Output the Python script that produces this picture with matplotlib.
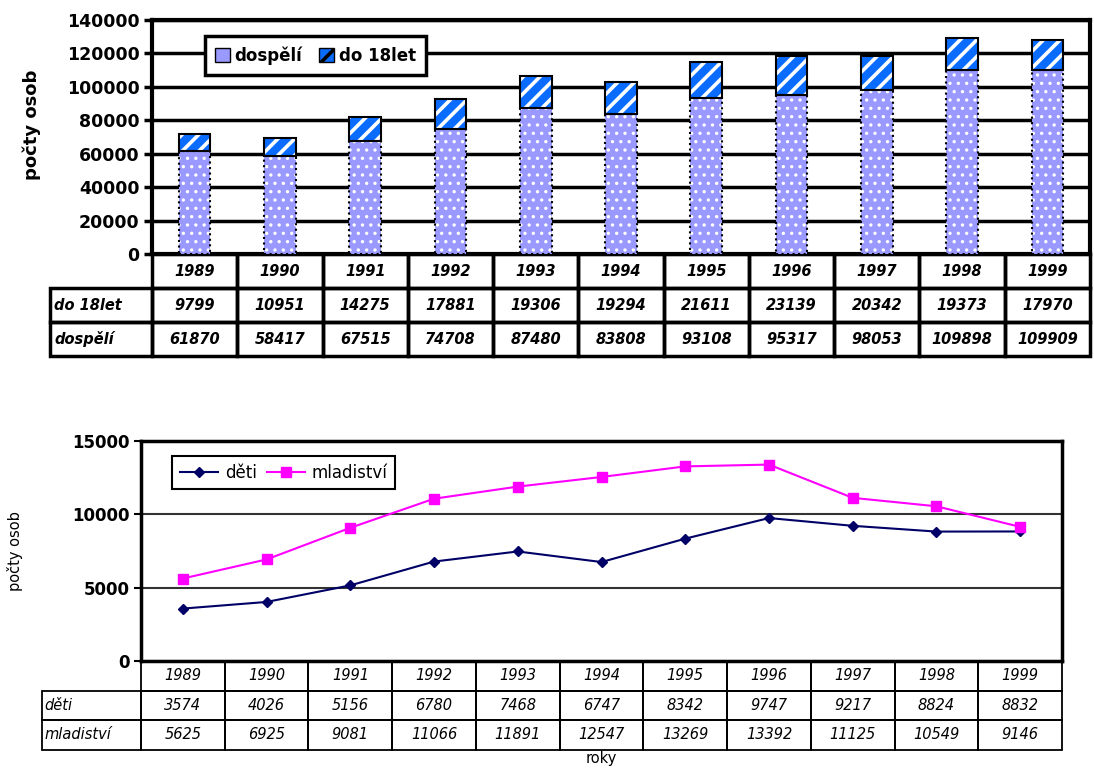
import matplotlib
matplotlib.use('Agg')
import matplotlib.pyplot as plt
from matplotlib.patches import Rectangle

# data
roky = ['1989', '1990', '1991', '1992', '1993', '1994', '1995', '1996', '1997', '1998', '1999']
do18 = [9799, 10951, 14275, 17881, 19306, 19294, 21611, 23139, 20342, 19373, 17970]
dospeli = [61870, 58417, 67515, 74708, 87480, 83808, 93108, 95317, 98053, 109898, 109909]
deti = [3574, 4026, 5156, 6780, 7468, 6747, 8342, 9747, 9217, 8824, 8832]
mladistvi = [5625, 6925, 9081, 11066, 11891, 12547, 13269, 13392, 11125, 10549, 9146]

plt.rcParams['hatch.linewidth'] = 2.6
W, H = 1094, 771
fig = plt.figure(figsize=(W/100, H/100), dpi=100)


def rect(l, t, r, b):
    return [l/W, 1-b/H, (r-l)/W, (b-t)/H]


def draw_table(ax, cols, labels, rows, label_left, row_h, lw, font, lab_pad):
    tr = ax.get_xaxis_transform()
    for i, c in enumerate(cols):
        ax.add_patch(Rectangle((i-0.5, -row_h), 1, row_h, transform=tr, fill=False,
                               lw=lw, ec='black', clip_on=False))
        ax.text(i, -row_h/2, c, transform=tr, ha='center', va='center', **font)
    for r, (name, vals) in enumerate(zip(labels, rows)):
        y0 = -row_h*(r+2)
        ax.add_patch(Rectangle((label_left, y0), -0.5-label_left, row_h, transform=tr,
                               fill=False, lw=lw, ec='black', clip_on=False))
        ax.text(label_left+lab_pad, y0+row_h/2, name, transform=tr, ha='left', va='center', **font)
        for i, v in enumerate(vals):
            ax.add_patch(Rectangle((i-0.5, y0), 1, row_h, transform=tr, fill=False,
                                   lw=lw, ec='black', clip_on=False))
            ax.text(i, y0+row_h/2, str(v), transform=tr, ha='center', va='center', **font)


# ---- horni graf (sloupce) ----
ax1 = fig.add_axes(rect(152, 20, 1090, 254))
x = list(range(len(roky)))
bw = 0.37
dots = ax1.bar(x, dospeli, width=bw, color='#9999ff', edgecolor='white', hatch='..', lw=0, zorder=3)
for p in dots:
    if hasattr(p, 'set_hatch_linewidth'):
        p.set_hatch_linewidth(1.2)
ax1.bar(x, dospeli, width=bw, fill=False, edgecolor='black', ls=':', lw=1.5, zorder=4)
ax1.bar(x, do18, bottom=dospeli, width=bw, color='#0a6cff', edgecolor='white', hatch='//', lw=0, zorder=3)
ax1.bar(x, do18, bottom=dospeli, width=bw, fill=False, edgecolor='black', lw=1.5, zorder=4)
ax1.set_xlim(-0.5, 10.5)
ax1.set_ylim(0, 140000)
ax1.set_yticks(range(0, 140001, 20000))
ax1.set_xticks([])
ax1.yaxis.grid(True, color='black', lw=2.5, zorder=0)
for s in ax1.spines.values():
    s.set_linewidth(3)
ax1.tick_params(axis='y', direction='out', length=6, width=2.5, labelsize=12.5, pad=3)
for t in ax1.get_yticklabels():
    t.set_fontweight('bold')
ax1.set_ylabel('počty osob', fontsize=13, fontweight='bold')
ax1.yaxis.set_label_coords(-0.118, 0.55)

h1 = Rectangle((0, 0), 1, 1, facecolor='#9999ff', edgecolor='black', lw=1)
h2 = Rectangle((0, 0), 1, 1, facecolor='#0a6cff', edgecolor='black', hatch='//', lw=1)
leg1 = ax1.legend([h1, h2], ['dospělí', 'do 18let'], ncol=2, loc='upper left',
                  bbox_to_anchor=(0.056, 0.93), fancybox=False, framealpha=1, edgecolor='black',
                  prop={'weight': 'bold', 'size': 12}, handlelength=0.9, handleheight=0.9,
                  handletextpad=0.3, columnspacing=1.0, borderpad=0.6, borderaxespad=0)
leg1.get_frame().set_linewidth(2.5)
leg1.set_zorder(5)

draw_table(ax1, roky, ['do 18let', 'dospělí'], [do18, dospeli],
           -0.5-102/85.3, 34/234, 2.5,
           {'fontsize': 10.5, 'fontweight': 'heavy', 'fontstyle': 'italic'}, 0.05)

# ---- dolni graf (cary) ----
ax2 = fig.add_axes(rect(141, 441, 1062, 661))
ax2.plot(x, deti, color='#000066', marker='D', ms=5, lw=1.5, label='děti', zorder=3)
ax2.plot(x, mladistvi, color='#ff00ff', marker='s', ms=6.5, lw=1.5, label='mladiství', zorder=3)
ax2.set_xlim(-0.5, 10.5)
ax2.set_ylim(0, 15000)
ax2.set_yticks([0, 5000, 10000, 15000])
ax2.set_xticks([])
ax2.yaxis.grid(True, color='#333333', lw=1.5, zorder=0)
for s in ax2.spines.values():
    s.set_linewidth(2.5)
ax2.tick_params(axis='y', direction='out', length=5, width=1.5, labelsize=12, pad=3)
for t in ax2.get_yticklabels():
    t.set_fontweight('bold')
ax2.set_ylabel('počty osob', fontsize=10.5)
ax2.yaxis.set_label_coords(-0.128, 0.5)
ax2.set_xlabel('roky', fontsize=10.5)
ax2.xaxis.set_label_coords(0.5, -0.41)
leg2 = ax2.legend(loc='upper left', bbox_to_anchor=(0.034, 0.93), ncol=2, fancybox=False,
                  framealpha=1, edgecolor='black', prop={'size': 12}, handlelength=2.3,
                  handletextpad=0.4, columnspacing=0.6, borderpad=0.45, borderaxespad=0)
leg2.get_frame().set_linewidth(1.5)

draw_table(ax2, roky, ['děti', 'mladiství'], [deti, mladistvi],
           -0.5-99/83.7, 29.5/220, 1.3,
           {'fontsize': 10.5, 'fontstyle': 'italic'}, 0.03)

fig.savefig('out.png', dpi=100)
